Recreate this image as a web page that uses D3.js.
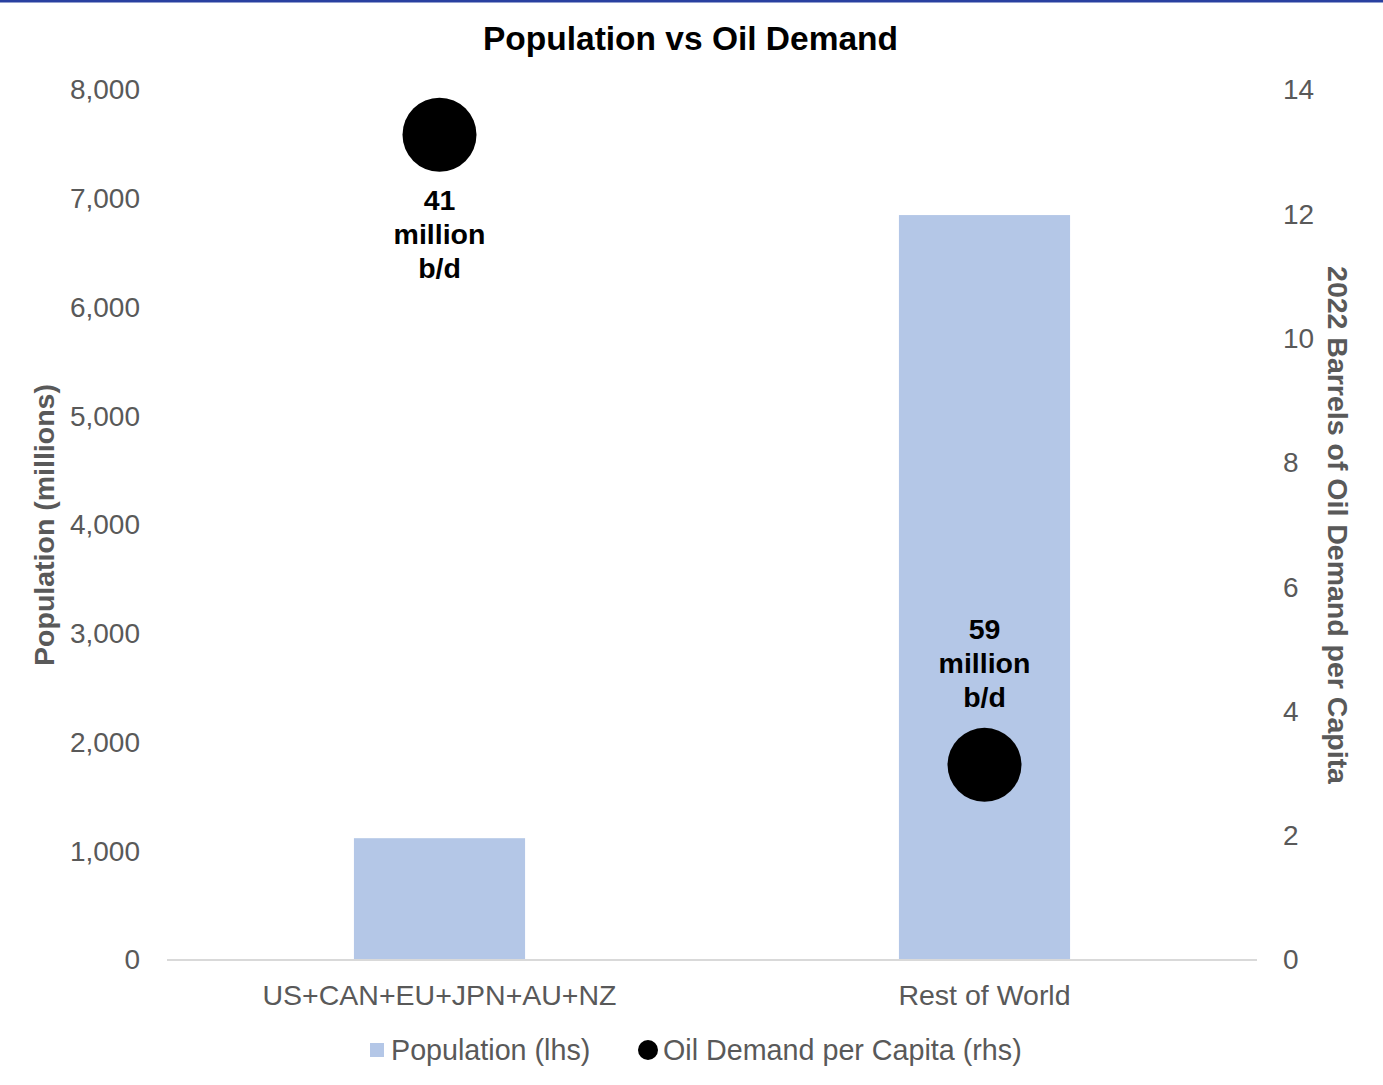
<!DOCTYPE html>
<html lang="en">
  <head>
    <meta charset="utf-8">
    <title>Population vs Oil Demand</title>
    <script src="https://cdn.jsdelivr.net/npm/d3@7"></script>
    <style>
      body { margin: 0; background: #fff; }
      text { font-family: "Liberation Sans", Arial, sans-serif; }
    </style>
  </head>
  <body>
    <script>
      // chart data
      var categories = ["US+CAN+EU+JPN+AU+NZ", "Rest of World"];
      var population = [1120, 6850];          // millions (lhs)
      var perCapita = [13.28, 3.14];         // barrels per capita (rhs)
      var dotLabels = [["41", "million", "b/d"], ["59", "million", "b/d"]];
      var leftTicks = [0, 1000, 2000, 3000, 4000, 5000, 6000, 7000, 8000];
      var rightTicks = [0, 2, 4, 6, 8, 10, 12, 14];

      var W = 1383, H = 1085;
      var m = { left: 167, right: 126, top: 90, bottom: 125 };

      var svg = d3.select("body").append("svg")
                  .attr("width", W)
                  .attr("height", H);

      // top rule
      svg.append("rect").attr("x", 0).attr("y", 0).attr("width", W).attr("height", 2.5)
         .style("fill", "#2940a0");

      var x = d3.scaleBand().domain(categories)
                .range([m.left, W - m.right])
                .paddingInner(0.686).paddingOuter(0.343);
      var xc = d3.scaleBand().domain(categories).range([m.left, W - m.right]);
      var yL = d3.scaleLinear().domain([0, 8000]).range([H - m.bottom, m.top]);
      var yR = d3.scaleLinear().domain([0, 14]).range([H - m.bottom, m.top]);

      svg.append("text").attr("x", W / 2 - 1).attr("y", 50)
         .attr("text-anchor", "middle")
         .style("font-size", "33.5px").style("font-weight", "bold")
         .text("Population vs Oil Demand");

      // left axis
      var la = svg.append("g").attr("transform", "translate(" + (m.left - 24) + ",0)")
                  .call(d3.axisLeft(yL).tickValues(leftTicks).tickSize(0).tickFormat(d3.format(",")));
      la.select(".domain").remove();
      la.selectAll("text").style("font-size", "28px").style("fill", "#595959")
        .style("font-family", "Liberation Sans, Arial, sans-serif");

      // right axis
      var ra = svg.append("g").attr("transform", "translate(" + (W - m.right + 23) + ",0)")
                  .call(d3.axisRight(yR).tickValues(rightTicks).tickSize(0));
      ra.select(".domain").remove();
      ra.selectAll("text").style("font-size", "28px").style("fill", "#595959")
        .style("font-family", "Liberation Sans, Arial, sans-serif");

      // bars
      svg.selectAll("rect.bar")
         .data(population)
         .enter().append("rect")
         .attr("class", "bar")
         .attr("x", function(d, i) { return x(categories[i]); })
         .attr("width", x.bandwidth())
         .attr("y", function(d) { return yL(d); })
         .attr("height", function(d) { return yL(0) - yL(d); })
         .style("fill", "#b4c7e7");

      // baseline
      svg.append("line").attr("x1", m.left).attr("x2", W - m.right)
         .attr("y1", yL(0)).attr("y2", yL(0))
         .style("stroke", "#d9d9d9").style("stroke-width", 2);

      // category labels
      svg.selectAll("text.cat")
         .data(categories)
         .enter().append("text")
         .attr("class", "cat")
         .attr("x", function(d) { return xc(d) + xc.bandwidth() / 2; })
         .attr("y", yL(0) + 45)
         .attr("text-anchor", "middle")
         .style("font-size", "28.5px").style("fill", "#595959")
         .text(function(d) { return d; });

      // dots
      svg.selectAll("circle.dot")
         .data(perCapita)
         .enter().append("circle")
         .attr("class", "dot")
         .attr("cx", function(d, i) { return xc(categories[i]) + xc.bandwidth() / 2; })
         .attr("cy", function(d) { return yR(d); })
         .attr("r", 37)
         .style("fill", "#000");

      // dot labels: below the first dot, above the second
      dotLabels.forEach(function(lines, i) {
        var cx = xc(categories[i]) + xc.bandwidth() / 2;
        var cy = yR(perCapita[i]);
        var y0 = i === 0 ? cy + 75 : cy - 126;
        var t = svg.append("text").attr("text-anchor", "middle")
                   .style("font-size", "28.5px").style("font-weight", "bold");
        lines.forEach(function(s, k) {
          t.append("tspan").attr("x", cx).attr("y", y0 + k * 34).text(s);
        });
      });

      // axis titles
      svg.append("text")
         .attr("transform", "translate(54," + ((m.top + H - m.bottom) / 2) + ") rotate(-90)")
         .attr("text-anchor", "middle")
         .style("font-size", "28.5px").style("font-weight", "bold").style("fill", "#595959")
         .text("Population (millions)");
      svg.append("text")
         .attr("transform", "translate(1328," + ((m.top + H - m.bottom) / 2) + ") rotate(90)")
         .attr("text-anchor", "middle")
         .style("font-size", "28.5px").style("font-weight", "bold").style("fill", "#595959")
         .text("2022 Barrels of Oil Demand per Capita");

      // legend
      var lg = svg.append("g").attr("transform", "translate(0,1050)");
      lg.append("rect").attr("x", 370).attr("y", -7).attr("width", 14).attr("height", 14)
        .style("fill", "#b4c7e7");
      lg.append("text").attr("x", 391).attr("y", 10)
        .style("font-size", "28.7px").style("fill", "#595959").text("Population (lhs)");
      lg.append("circle").attr("cx", 648).attr("cy", 0).attr("r", 10).style("fill", "#000");
      lg.append("text").attr("x", 663).attr("y", 10)
        .style("font-size", "28.7px").style("fill", "#595959").text("Oil Demand per Capita (rhs)");
    </script>
  </body>
</html>
